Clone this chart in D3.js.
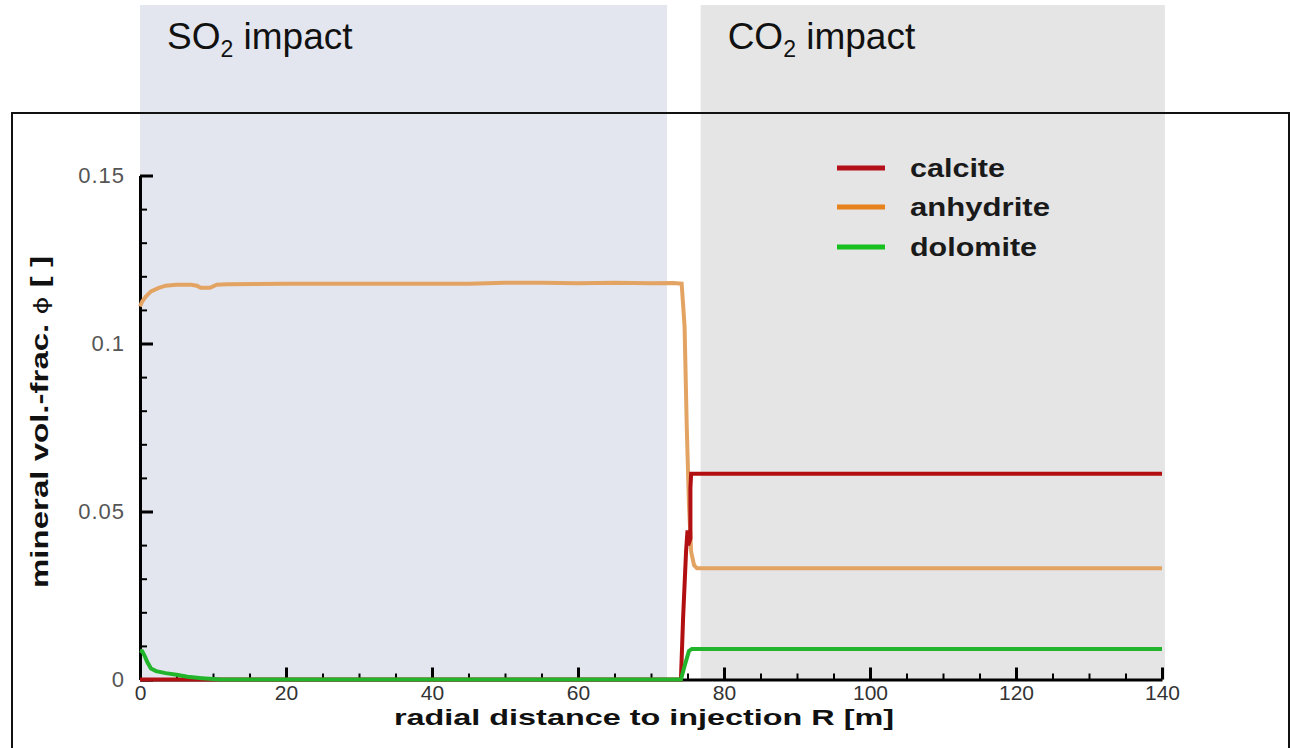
<!DOCTYPE html>
<html>
<head>
<meta charset="utf-8">
<script src="https://cdn.jsdelivr.net/npm/d3@7"></script>
<style>
  html, body { margin: 0; padding: 0; background: #fff; }
  svg { display: block; }
  text { font-family: "Liberation Sans", Arial, sans-serif; }
</style>
</head>
<body>
<svg id="chart" width="1291" height="748"></svg>
<script>
// Mineral volume fractions along the radial distance from the injection well
const anhydriteR = [0, 0.3, 0.8, 1.5, 2.5, 3.5, 5, 7, 7.8, 8.3, 9.6, 10.5, 12, 20, 30, 45, 50, 55, 60, 65, 70, 73, 74.2, 74.6, 74.9, 75.2, 75.5, 75.9, 76.3, 140];
const anhydriteV = [0.111, 0.1125, 0.114, 0.1155, 0.1165, 0.1172, 0.1175, 0.1175, 0.1172, 0.1166, 0.1166, 0.1175, 0.1176, 0.1178, 0.1178, 0.1178, 0.1181, 0.1181, 0.1179, 0.1181, 0.1179, 0.118, 0.1178, 0.105, 0.075, 0.052, 0.038, 0.034, 0.0331, 0.0331];

const calciteR = [0, 74.1, 74.4, 74.8, 75.0, 75.1, 75.4, 75.4, 75.5, 140];
const calciteV = [0, 0, 0.0185, 0.038, 0.0444, 0.040, 0.042, 0.057, 0.0612, 0.0612];

const dolomiteR = [0, 0.3, 0.6, 1.0, 1.5, 2.2, 3.5, 5, 6.5, 8.5, 11, 74.1, 74.6, 75.2, 75.6, 140];
const dolomiteV = [0.0086, 0.0084, 0.0072, 0.0052, 0.0033, 0.0025, 0.0019, 0.0014, 0.0008, 0.0004, 0, 0, 0.004, 0.0085, 0.0091, 0.0091];

const seriesNames = ["calcite", "anhydrite", "dolomite"];
const xMajorTicks = [0, 20, 40, 60, 80, 100, 120, 140];
const yMajorTicks = [0, 0.05, 0.1, 0.15];
const yTickLabels = ["0", "0.05", "0.1", "0.15"];

// Zones of the domain [start, end] in metres
const zoneNames = ["SO", "CO"];
const zoneExtent = [[0, 72.2], [76.8, 140.4]];

const svg = d3.select("#chart");

const x = d3.scaleLinear().domain([0, 140]).range([140, 1162]);
const y = d3.scaleLinear().domain([0, 0.15]).range([679.5, 175.5]);

const lineColors = { calcite: "#b10f12", anhydrite: "#e3a463", dolomite: "#22b42a" };
const legendColors = { calcite: "#b3101a", anhydrite: "#e8821c", dolomite: "#16c01e" };
const zoneFills = ["#e3e6ef", "#e5e5e5"];

// shaded zones
svg.selectAll("rect.zone")
  .data(zoneExtent)
  .join("rect")
  .attr("class", "zone")
  .attr("x", d => x(d[0]))
  .attr("width", d => x(d[1]) - x(d[0]))
  .attr("y", 5)
  .attr("height", d => y(0) - 5)
  .attr("fill", (d, i) => zoneFills[i]);

// zone titles with subscript
zoneExtent.forEach((d, i) => {
  const t = svg.append("text")
    .attr("x", x(d[0]) + 27)
    .attr("y", 49)
    .attr("font-size", 37)
    .attr("fill", "#111");
  t.append("tspan").text(zoneNames[i]);
  t.append("tspan").attr("font-size", 23).attr("dy", 8).text("2");
  t.append("tspan").attr("dy", -8).text(" impact");
});

// outer frame
svg.append("path")
  .attr("d", "M12,760 V113 H1289 V760")
  .attr("fill", "none")
  .attr("stroke", "#111")
  .attr("stroke-width", 2);

// axes
const xMinor = d3.range(0, 141, 5).filter(v => v % 20 !== 0);
const yMinor = d3.range(0, 16, 1).map(v => v / 100).filter(v => Math.round(v * 100) % 5 !== 0);

svg.append("g")
  .attr("transform", `translate(0,${y(0)})`)
  .call(d3.axisBottom(x).tickValues(xMinor).tickSize(-6).tickSizeOuter(0).tickFormat(""))
  .call(g => g.select(".domain").remove())
  .call(g => g.selectAll("line").attr("stroke", "#000").attr("stroke-width", 2));

svg.append("g")
  .attr("transform", `translate(${x(0)},0)`)
  .call(d3.axisLeft(y).tickValues(yMinor).tickSize(-7).tickSizeOuter(0).tickFormat(""))
  .call(g => g.select(".domain").remove())
  .call(g => g.selectAll("line").attr("stroke", "#000").attr("stroke-width", 2));

const xAxis = svg.append("g")
  .attr("transform", `translate(0,${y(0)})`)
  .call(d3.axisBottom(x).tickValues(xMajorTicks).tickSize(-12).tickSizeOuter(0).tickPadding(6).tickFormat(d3.format("d")));
xAxis.select(".domain").attr("stroke", "#000").attr("stroke-width", 3);
xAxis.selectAll("line").attr("stroke", "#000").attr("stroke-width", 3);
xAxis.selectAll("text").attr("font-size", 21).attr("fill", "#333")
  .attr("font-family", "'Liberation Sans', Arial, sans-serif");

const yAxis = svg.append("g")
  .attr("transform", `translate(${x(0)},0)`)
  .call(d3.axisLeft(y).tickValues(yMajorTicks).tickSize(-13).tickSizeOuter(0).tickPadding(15)
    .tickFormat((d, i) => yTickLabels[i]));
yAxis.select(".domain").attr("stroke", "#000").attr("stroke-width", 3);
yAxis.selectAll("line").attr("stroke", "#000").attr("stroke-width", 3);
yAxis.selectAll("text").attr("font-size", 22).attr("fill", "#555").attr("letter-spacing", 1)
  .attr("font-family", "'Liberation Sans', Arial, sans-serif");

// axis titles
svg.append("text")
  .attr("x", 644)
  .attr("y", 725)
  .attr("text-anchor", "middle")
  .attr("font-size", 22)
  .attr("font-weight", "bold")
  .attr("fill", "#111")
  .attr("textLength", 500)
  .attr("lengthAdjust", "spacingAndGlyphs")
  .text("radial distance to injection R [m]");

const yTitle = svg.append("text")
  .attr("transform", "translate(48,422) rotate(-90)")
  .attr("text-anchor", "middle")
  .attr("font-size", 24)
  .attr("font-weight", "bold")
  .attr("fill", "#111")
  .attr("textLength", 332)
  .attr("lengthAdjust", "spacingAndGlyphs");
yTitle.append("tspan").text("mineral vol.-frac. ");
yTitle.append("tspan").attr("font-weight", "normal").attr("font-family", "'DejaVu Sans', sans-serif").attr("font-size", 20).text("\u03D5");
yTitle.append("tspan").text(" [ ]");

// series lines
const series = {
  calcite: calciteR.map((r, i) => [r, calciteV[i]]),
  anhydrite: anhydriteR.map((r, i) => [r, anhydriteV[i]]),
  dolomite: dolomiteR.map((r, i) => [r, dolomiteV[i]])
};
const line = d3.line().x(d => x(d[0])).y(d => y(d[1]));

["anhydrite", "calcite", "dolomite"].forEach(name => {
  svg.append("path")
    .datum(series[name])
    .attr("d", line)
    .attr("fill", "none")
    .attr("stroke", lineColors[name])
    .attr("stroke-width", 4)
    .attr("stroke-linejoin", "miter");
});

// legend
const legendY = [168, 207, 247];
const legendWidths = [95, 140, 127];
const legend = svg.append("g");
seriesNames.forEach((name, i) => {
  legend.append("line")
    .attr("x1", 837).attr("x2", 885)
    .attr("y1", legendY[i]).attr("y2", legendY[i])
    .attr("stroke", legendColors[name])
    .attr("stroke-width", 5);
  legend.append("text")
    .attr("x", 910)
    .attr("y", legendY[i] + 9)
    .attr("font-size", 26)
    .attr("font-weight", "bold")
    .attr("fill", "#1a1a1a")
    .attr("textLength", legendWidths[i])
    .attr("lengthAdjust", "spacingAndGlyphs")
    .text(name);
});
</script>
</body>
</html>
